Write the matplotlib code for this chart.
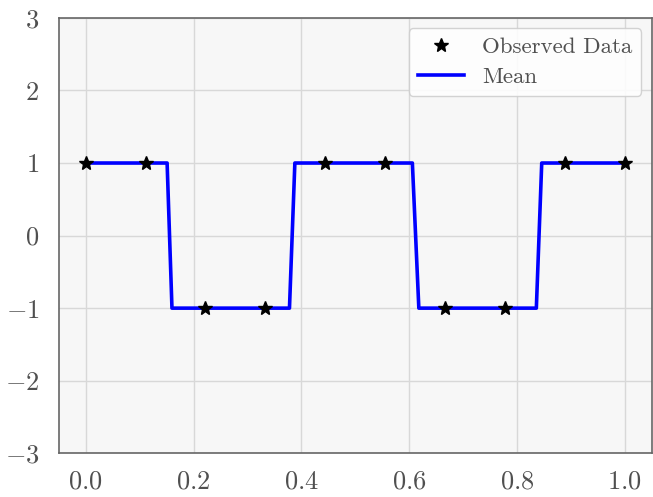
import matplotlib
matplotlib.use("Agg")
import matplotlib.pyplot as plt

# observed training points
obs_x = [0.0, 0.111, 0.222, 0.333, 0.444, 0.556, 0.667, 0.778, 0.889, 1.0]
obs_y = [1, 1, -1, -1, 1, 1, -1, -1, 1, 1]

# predictive mean (corner points of the step profile)
mean_x = [0.0, 0.151, 0.160, 0.378, 0.388, 0.606, 0.618, 0.836, 0.846, 1.0]
mean_y = [1, 1, -1, -1, 1, 1, -1, -1, 1, 1]

xticks = [0.0, 0.2, 0.4, 0.6, 0.8, 1.0]
yticks = [-3, -2, -1, 0, 1, 2, 3]

plt.rcParams['font.family'] = 'serif'
plt.rcParams['font.serif'] = ['cmr10']
plt.rcParams['mathtext.fontset'] = 'cm'
plt.rcParams['axes.formatter.use_mathtext'] = True
plt.rcParams['axes.unicode_minus'] = True

fig = plt.figure(figsize=(6.53, 4.97), dpi=100)
ax = fig.add_axes([0.090, 0.088, 0.908, 0.876])
ax.set_facecolor('#f7f7f7')

ax.plot(obs_x, obs_y, '*', color='black', markersize=10, label='Observed Data', zorder=4)
ax.plot(mean_x, mean_y, '-', color='blue', linewidth=2.6, label='Mean', zorder=3)

ax.set_xlim(-0.05, 1.05)
ax.set_ylim(-3, 3)
ax.set_xticks(xticks)
ax.set_yticks(yticks)
ax.tick_params(length=0, labelsize=19, labelcolor='#505050')
ax.tick_params(axis='x', pad=12)
ax.tick_params(axis='y', pad=14)
ax.grid(True, color='#d8d8d8', linewidth=1.0)
ax.set_axisbelow(True)
for s in ax.spines.values():
    s.set_color('#666666')
    s.set_linewidth(1.2)

leg = ax.legend(loc='upper right', fontsize=16.5, frameon=True, fancybox=True,
                framealpha=0.85, edgecolor='#cccccc', borderaxespad=0.45,
                labelspacing=0.4)
for t in leg.get_texts():
    t.set_color('#505050')

fig.savefig('out.png', dpi=100)
